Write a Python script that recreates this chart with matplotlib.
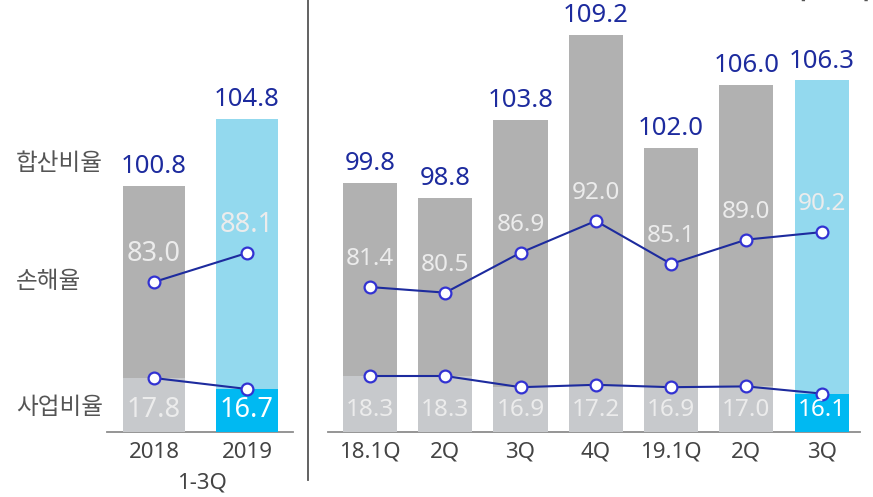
import matplotlib
matplotlib.use("Agg")
import matplotlib.pyplot as plt
import matplotlib.transforms as mtransforms

plt.rcParams['font.family'] = ['Noto Sans', 'Noto Sans CJK KR', 'DejaVu Sans']

# ---- data ----
left_cats = ['2018', '2019']
left_sub = '1-3Q'
left_combined = [100.8, 104.8]
left_loss = [83.0, 88.1]
left_expense = [17.8, 16.7]

right_cats = ['18.1Q', '2Q', '3Q', '4Q', '19.1Q', '2Q', '3Q']
right_combined = [99.8, 98.8, 103.8, 109.2, 102.0, 106.0, 106.3]
right_loss = [81.4, 80.5, 86.9, 92.0, 85.1, 89.0, 90.2]
right_expense = [18.3, 18.3, 16.9, 17.2, 16.9, 17.0, 16.1]

row_labels = ['합산비율', '손해율', '사업비율']
unit_label = '[단위 : %]'

# ---- style ----
W, H = 873, 497
DPI = 100
GRAY = '#b1b1b1'
LGRAY = '#c7c9cc'
LBLUE = '#93d9ee'
BLUE = '#00b9f2'
NAVY = '#1d2b9e'
MEDGE = '#3232d2'
INNER = '#ececec'
TICK = '#444444'

fig = plt.figure(figsize=(W / DPI, H / DPI), dpi=DPI)


def px_rect(x0, x1, ytop, ybot):
    return [x0 / W, (H - ybot) / H, (x1 - x0) / W, (ybot - ytop) / H]


def panel(rect, xlim, cats, combined, loss, expense, width, bar_ylim, loss_ylim,
          exp_ylim, top_fs, inner_fs, highlight_last_n):
    ax = fig.add_axes(rect)
    ax_exp = ax.twinx()
    ax_loss = ax.twinx()
    n = len(cats)
    xs = list(range(n))
    top_cols = [GRAY] * (n - highlight_last_n) + [LBLUE] * highlight_last_n
    bot_cols = [LGRAY] * (n - highlight_last_n) + [BLUE] * highlight_last_n

    ax.bar(xs, [v - bar_ylim[0] for v in combined], bottom=bar_ylim[0],
           width=width, color=top_cols, zorder=1)
    ax_exp.bar(xs, [v - exp_ylim[0] for v in expense], bottom=exp_ylim[0],
               width=width, color=bot_cols, zorder=1)

    ax_exp.plot(xs, expense, color=NAVY, lw=1.5, marker='o', ms=8.5,
                mfc='white', mec=MEDGE, mew=1.6, zorder=5)
    ax_loss.plot(xs, loss, color=NAVY, lw=1.5, marker='o', ms=8.5,
                 mfc='white', mec=MEDGE, mew=1.6, zorder=5)

    for x, v in zip(xs, combined):
        ax.annotate(f'{v:.1f}', (x, v), xytext=(0, 5), textcoords='offset points',
                    ha='center', va='bottom', fontsize=top_fs, color=NAVY)
    for x, v in zip(xs, loss):
        ax_loss.annotate(f'{v:.1f}', (x, v), xytext=(0, 20), textcoords='offset points',
                         ha='center', va='center', fontsize=inner_fs, color=INNER,
                         fontweight='light', zorder=6)
    trans = mtransforms.blended_transform_factory(ax_exp.transData, ax_exp.transAxes)
    for i, (x, v) in enumerate(zip(xs, expense)):
        col = 'white' if i >= n - highlight_last_n else INNER
        ax_exp.text(x, 22 / 432, f'{v:.1f}', transform=trans, ha='center', va='center',
                    fontsize=inner_fs, color=col, fontweight='light', zorder=6)

    for a, yl in ((ax, bar_ylim), (ax_exp, exp_ylim), (ax_loss, loss_ylim)):
        a.set_xlim(*xlim)
        a.set_ylim(*yl)
        for s in a.spines.values():
            s.set_visible(False)
        a.tick_params(left=False, right=False, labelleft=False, labelright=False)
        a.patch.set_visible(False)
    ax.spines['bottom'].set_visible(True)
    ax.spines['bottom'].set_color('#8c8c8c')
    ax.spines['bottom'].set_linewidth(1.3)
    ax.set_xticks(xs)
    ax.set_xticklabels(cats, fontsize=16, color=TICK)
    ax.tick_params(axis='x', length=0, pad=7)
    ax_exp.tick_params(bottom=False, labelbottom=False)
    ax_loss.tick_params(bottom=False, labelbottom=False)
    return ax


axL = panel(px_rect(107, 293, 0, 432), (-0.505, 1.495), left_cats, left_combined,
            left_loss, left_expense, 0.667, (86.1, 111.9), (56.64, 132.56),
            (12.4, 55.6), 18.5, 19.5, 1)
axR = panel(px_rect(328, 860, 0, 432), (-0.558, 6.51), right_cats, right_combined,
            right_loss, right_expense, 0.72, (83.94, 111.42), (58.17, 127.4),
            (11.3, 65.3), 18.5, 17.5, 1)

# sub-label under left panel
fig.text(202 / W, (H - 483) / H, left_sub, ha='center', va='center',
         fontsize=16, color=TICK)

# row labels
for lab, y in zip(row_labels, [163, 281, 408]):
    fig.text(16 / W, (H - y) / H, lab, ha='left', va='center', fontsize=17,
             color='#555555', family=['Noto Sans CJK KR', 'DejaVu Sans'])

# divider
fig.add_artist(plt.Line2D([308 / W, 308 / W], [(H - 480) / H, 1.0],
                          color='#555555', lw=1.3))

# unit label (partly cut off at the top edge, as in the reference)
fig.text(870 / W, (H + 2) / H, unit_label, ha='right', va='baseline', fontsize=12,
         color='#555555', family=['Noto Sans CJK KR', 'DejaVu Sans'])

fig.savefig('out.png', dpi=DPI)
